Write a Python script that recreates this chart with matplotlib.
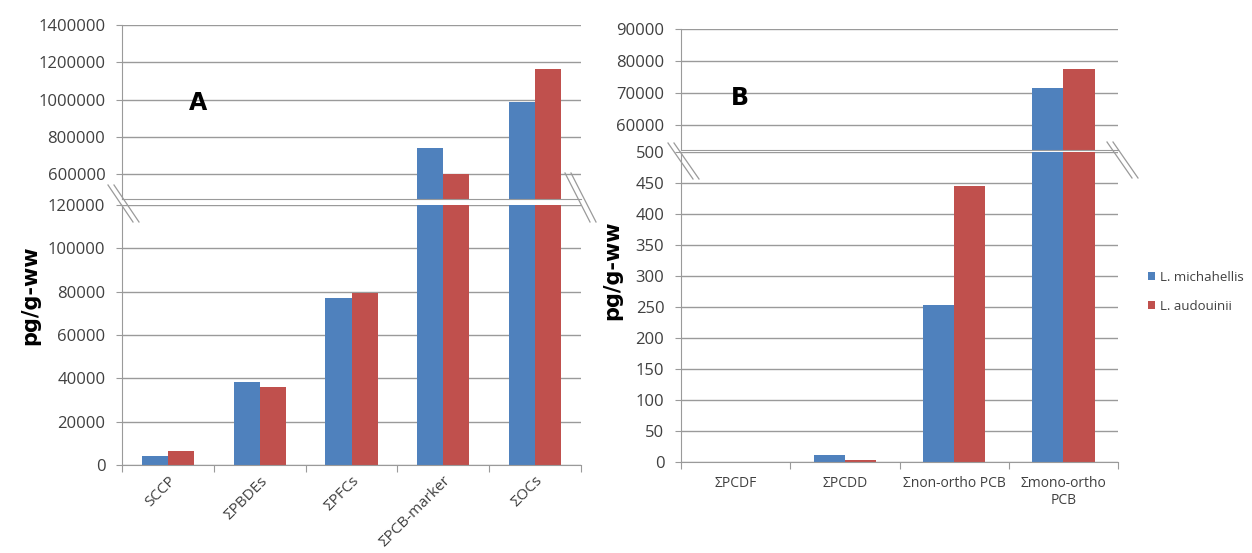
import numpy as np
import matplotlib.pyplot as plt
from matplotlib.ticker import StrMethodFormatter

plt.rcParams['font.family'] = ['Open Sans', 'DejaVu Sans']

species = ["L. michahellis", "L. audouinii"]
colors = ["#4F81BD", "#C0504D"]

# panel A
cats_a = ["SCCP", "ΣPBDEs", "ΣPFCs", "ΣPCB-marker", "ΣOCs"]
mich_a = [4300, 38200, 76900, 738000, 985000]
aud_a = [6400, 35900, 79200, 600000, 1162000]

# panel B
cats_b = ["ΣPCDF", "ΣPCDD", "Σnon-ortho PCB", "Σmono-ortho\nPCB"]
mich_b = [0, 11, 253, 71500]
aud_b = [0, 3, 445, 77600]

grid_c = "#9a9a9a"
text_c = "#404040"
W, H = 1252, 553


def px_axes(fig, x0, x1, y0, y1):
    # axes from pixel box (y measured from the top)
    return fig.add_axes([x0 / W, 1 - y1 / H, (x1 - x0) / W, (y1 - y0) / H])


def style(ax, ticks, bottom=True):
    ax.set_yticks(ticks)
    ax.yaxis.set_major_formatter(StrMethodFormatter("{x:.0f}"))
    ax.grid(axis="y", color=grid_c, lw=1)
    ax.set_axisbelow(True)
    for s in ["top", "right"]:
        ax.spines[s].set_visible(False)
    ax.spines["left"].set_color(grid_c)
    ax.spines["bottom"].set_color(grid_c)
    ax.spines["bottom"].set_visible(bottom)
    ax.tick_params(axis="y", length=4, color=grid_c, labelsize=12, labelcolor=text_c, pad=8)
    ax.tick_params(axis="x", length=5, color=grid_c)


def bars(ax, n, v1, v2):
    x = np.arange(n)
    w = 0.285
    ax.bar(x - w / 2, v1, w, color=colors[0], label=species[0])
    ax.bar(x + w / 2, v2, w, color=colors[1], label=species[1])
    ax.set_xlim(-0.5, n - 0.5)
    return x


def break_marks(fig, pts):
    for (x0, y0, x1, y1) in pts:
        for d in (-3, 3):
            fig.add_artist(plt.Line2D([(x0 + d) / W, (x1 + d) / W], [1 - y0 / H, 1 - y1 / H],
                                      color=grid_c, lw=0.9))


fig = plt.figure(figsize=(12.52, 5.53), dpi=100)

# ---- A ----
a_top = px_axes(fig, 122, 581, 25, 199)
bars(a_top, 5, mich_a, aud_a)
a_top.set_ylim(465800, 1400000)
style(a_top, [600000, 800000, 1000000, 1200000, 1400000])
a_top.set_xticks([])
a_top.text(0.166, 0.55, "A", transform=a_top.transAxes, fontsize=17, fontweight="bold",
           family="DejaVu Sans", ha="center", va="center")

a_bot = px_axes(fig, 122, 581, 205, 465)
xa = bars(a_bot, 5, mich_a, aud_a)
a_bot.set_ylim(0, 120000)
style(a_bot, np.arange(0, 120001, 20000))
a_bot.set_xticks(np.arange(-0.5, 5, 1))
a_bot.set_xticklabels([])
a_bot.set_xticks(xa, cats_a, minor=True)
a_bot.tick_params(axis="x", which="minor", length=0, labelsize=11, labelcolor=text_c, pad=6)
for lab in a_bot.get_xticklabels(minor=True):
    lab.set_rotation(45)
    lab.set_ha("right")
    lab.set_rotation_mode("anchor")
fig.text(30 / W, 1 - 295 / H, "pg/g-ww", rotation=90, fontsize=15, fontweight="bold",
         family="DejaVu Sans", ha="center", va="center")
break_marks(fig, [(111, 185, 136, 222), (568, 173, 593, 222)])

# ---- B ----
b_top = px_axes(fig, 681, 1118, 29, 150)
bars(b_top, 4, mich_b, aud_b)
b_top.set_ylim(52190, 90000)
style(b_top, [60000, 70000, 80000, 90000])
b_top.set_xticks([])
b_top.text(0.135, 0.43, "B", transform=b_top.transAxes, fontsize=17, fontweight="bold",
           family="DejaVu Sans", ha="center", va="center")

b_bot = px_axes(fig, 681, 1118, 152, 462)
xb = bars(b_bot, 4, mich_b, aud_b)
b_bot.set_ylim(0, 500)
style(b_bot, np.arange(0, 501, 50))
b_bot.set_xticks(np.arange(-0.5, 4, 1))
b_bot.set_xticklabels([])
b_bot.set_xticks(xb, cats_b, minor=True)
b_bot.tick_params(axis="x", which="minor", length=0, labelsize=10, labelcolor=text_c, pad=10)
fig.text(612 / W, 1 - 270 / H, "pg/g-ww", rotation=90, fontsize=15, fontweight="bold",
         family="DejaVu Sans", ha="center", va="center")
break_marks(fig, [(671, 143, 696, 179), (1110, 142, 1135, 178)])

fig.legend(*b_bot.get_legend_handles_labels(), loc="center left",
           bbox_to_anchor=(1148 / W, 1 - 292 / H), frameon=False, fontsize=9.5,
           borderpad=0, borderaxespad=0,
           handlelength=0.55, handleheight=0.55, handletextpad=0.35, labelspacing=1.2,
           labelcolor=text_c)

fig.savefig("out.png", dpi=100)
